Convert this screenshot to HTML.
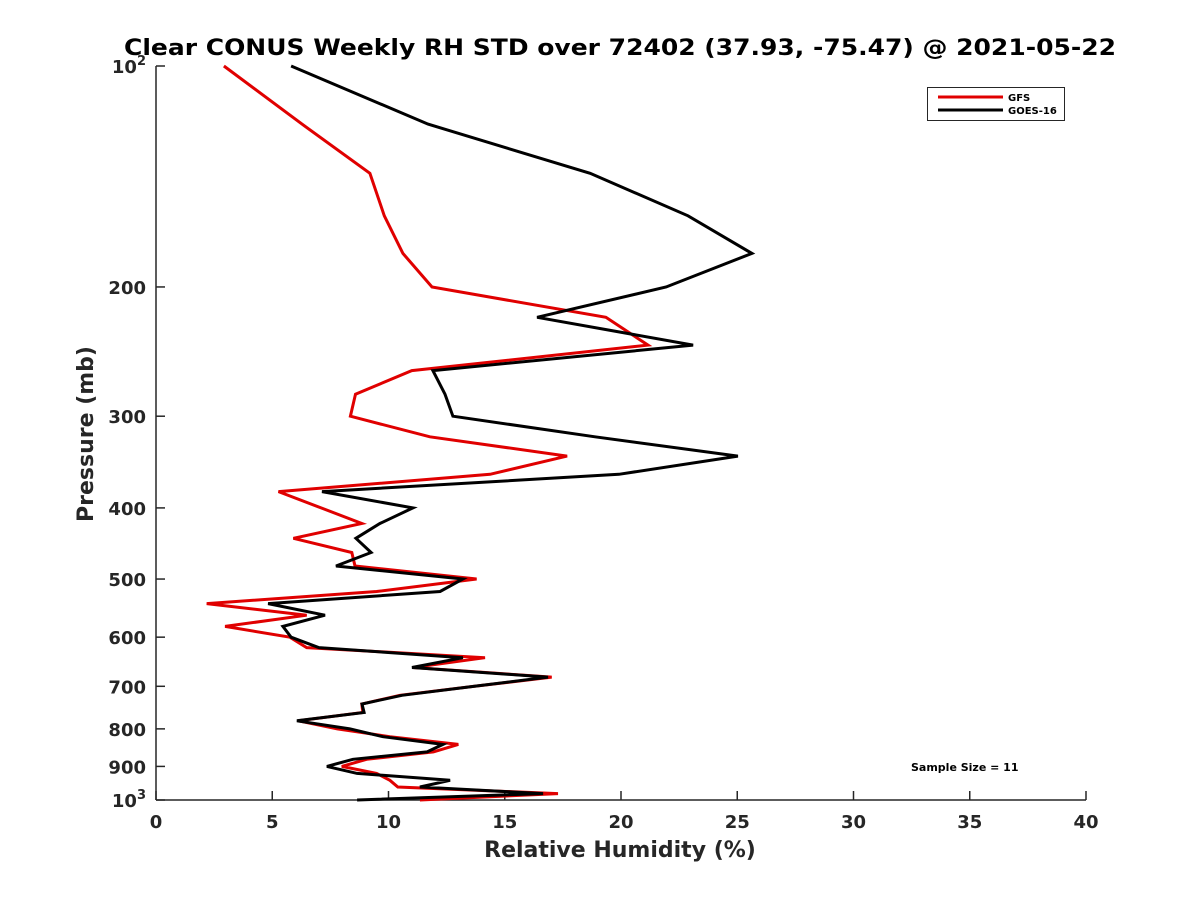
<!DOCTYPE html>
<html><head><meta charset="utf-8"><style>
html,body{margin:0;padding:0;background:#fff;}
svg{display:block;font-family:"DejaVu Sans","Liberation Sans",sans-serif;}
</style></head><body>
<svg id="chart" width="1200" height="900" viewBox="0 0 1200 900">
<rect x="0" y="0" width="1200" height="900" fill="#fff"/>
<text x="620" y="55" text-anchor="middle" font-size="22" font-weight="bold" fill="#000" textLength="992" lengthAdjust="spacingAndGlyphs">Clear CONUS Weekly RH STD over 72402 (37.93, -75.47) @ 2021-05-22</text>
<g id="axes"></g>
<g id="series"></g>
<text x="620" y="857" text-anchor="middle" font-size="22" font-weight="bold" fill="#262626">Relative Humidity (%)</text>
<text transform="translate(93,434) rotate(-90)" text-anchor="middle" font-size="22" font-weight="bold" fill="#262626">Pressure (mb)</text>
<g>
<rect x="927.5" y="87.5" width="137" height="33" fill="#fff" stroke="#262626" stroke-width="1"/>
<line x1="938" y1="97" x2="1003" y2="97" stroke="#e00000" stroke-width="3"/>
<text x="1008" y="101" font-size="10" font-weight="bold" fill="#000">GFS</text>
<line x1="938" y1="110" x2="1003" y2="110" stroke="#000" stroke-width="3"/>
<text x="1008" y="114" font-size="10" font-weight="bold" fill="#000">GOES-16</text>
</g>
<text x="911" y="771" font-size="11" font-weight="bold" fill="#000">Sample Size = 11</text>
</svg>
<script>
const pressures = [100,120,140,160,180,200,220,240,260,280,300,320,340,360,380,400,420,440,460,480,500,520,540,560,580,600,620,640,660,680,700,720,740,760,780,800,820,840,860,880,900,920,940,960,980,1000];
const gfsValues = [2.92,6.28,9.2,9.82,10.62,11.87,19.35,21.16,11.0,8.58,8.36,11.78,17.68,14.37,5.27,7.1,8.85,5.91,8.42,8.56,13.79,9.49,2.18,6.48,2.97,5.76,6.48,14.15,11.05,17.02,13.7,10.49,8.85,8.9,6.12,7.8,10.06,13.0,11.93,9.06,7.99,9.49,10.06,10.4,17.29,11.35];
const goesValues = [5.81,11.7,18.67,22.88,25.63,21.94,16.39,23.1,11.91,12.43,12.77,18.88,25.03,19.91,7.14,11.05,9.63,8.6,9.25,7.74,13.2,12.22,4.82,7.27,5.46,5.81,7.01,13.2,11.01,16.86,13.7,10.58,8.86,8.95,6.06,8.34,9.76,12.34,11.66,8.47,7.35,8.65,12.65,11.35,16.65,8.65];
const xTicks = [0,5,10,15,20,25,30,35,40];
const yTicks = [100,200,300,400,500,600,700,800,900,1000];
const yTickLabels = ["10^2","200","300","400","500","600","700","800","900","10^3"];

const X0=156,X1=1086,Y0=66,Y1=800;
function xs(v){return X0+(v-0)/(40-0)*(X1-X0);}
function ys(p){return Y0+Math.log10(p/100)*(Y1-Y0);}
const NS="http://www.w3.org/2000/svg";
const axes=document.getElementById('axes');
const series=document.getElementById('series');
function mk(tag,attrs,parent){const e=document.createElementNS(NS,tag);for(const k in attrs)e.setAttribute(k,attrs[k]);parent.appendChild(e);return e;}

let l=mk('line',{x1:X0,y1:Y0,x2:X0,y2:Y1,stroke:'#262626','stroke-width':1.5},axes);


l=mk('line',{x1:X0,y1:Y1,x2:X1,y2:Y1,stroke:'#262626','stroke-width':1.5},axes);



xTicks.forEach(v=>{
  const x=xs(v);
  const t=mk('line',{x1:x,y1:Y1,x2:x,y2:Y1-9,stroke:'#262626','stroke-width':1.5},axes);
  
  
  const tx=mk('text',{x:x,y:Y1+28,'text-anchor':'middle','font-size':18,'font-weight':'bold',fill:'#262626'},axes);
  tx.textContent=String(v);
  
  
});
yTicks.forEach((p,i)=>{
  const y=ys(p);
  const t=mk('line',{x1:X0,y1:y,x2:X0+9,y2:y,stroke:'#262626','stroke-width':1.5},axes);
  
  
  const lab=yTickLabels[i];
  const tx=mk('text',{x:X0-10,y:y+7,'text-anchor':'end','font-size':18,'font-weight':'bold',fill:'#262626'},axes);
  
  
  if(lab.indexOf('^')>=0){
    const parts=lab.split('^');
    const a=mk('tspan',{},tx); a.textContent=parts[0];
    const b=mk('tspan',{dy:-8,'font-size':13},tx); b.textContent=parts[1];
  } else tx.textContent=lab;
});

function drawLine(vals,color,name){
  const pts=vals.map((v,i)=>xs(v).toFixed(1)+','+ys(pressures[i]).toFixed(1)).join(' ');
  const pl=mk('polyline',{points:pts,fill:'none',stroke:color,'stroke-width':3,'stroke-linejoin':'miter'},series);
  
  
}
drawLine(gfsValues,'#e00000','gfs-line');
drawLine(goesValues,'#000000','goes16-line');
</script>
</body></html>
